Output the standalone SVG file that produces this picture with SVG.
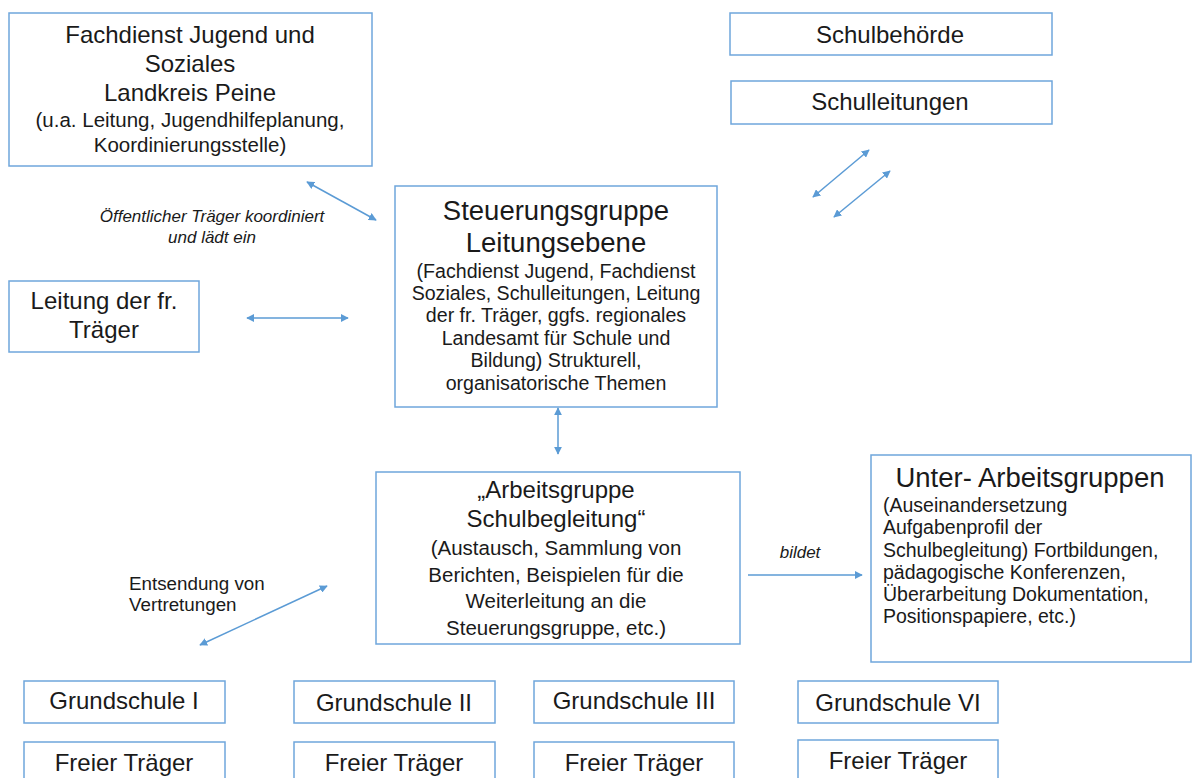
<svg xmlns="http://www.w3.org/2000/svg" width="1195" height="778" viewBox="0 0 1195 778">
<defs>
<marker id="ah" viewBox="0 0 10 10" refX="9" refY="5" markerWidth="8" markerHeight="8" markerUnits="userSpaceOnUse" orient="auto-start-reverse">
<path d="M0,0 L10,5 L0,10 z" fill="#5b9bd5"/>
</marker>
<style>
.box{fill:#fff;stroke:#6fa6dc;stroke-width:1.5}
text{font-family:"Liberation Sans",Arial,sans-serif;fill:#1a1a1a}
.t24{font-size:24px;text-anchor:middle}
.t27{font-size:27.5px;text-anchor:middle}
.b20{font-size:20.5px;text-anchor:middle}
.b19{font-size:19.6px;text-anchor:middle}
.bl{font-size:19.5px}
.it{font-size:17px;font-style:italic;text-anchor:middle}
.lab{font-size:18.8px}
.con{stroke:#5b9bd5;stroke-width:1.5;fill:none;marker-start:url(#ah);marker-end:url(#ah)}
.con1{stroke:#5b9bd5;stroke-width:1.5;fill:none;marker-end:url(#ah)}
</style>
</defs>
<rect width="1195" height="778" fill="#fff"/>

<g id="fachdienst">
<rect class="box" x="9" y="13" width="363" height="153"/>
<text class="t24" x="190" y="43">Fachdienst Jugend und</text>
<text class="t24" x="190" y="72">Soziales</text>
<text class="t24" x="190" y="101">Landkreis Peine</text>
<text class="b20" x="190" y="127">(u.a. Leitung, Jugendhilfeplanung,</text>
<text class="b20" x="190" y="152">Koordinierungsstelle)</text>
</g>

<g id="schulbehoerde">
<rect class="box" x="730" y="13" width="322" height="42"/>
<text class="t24" x="890" y="43">Schulbehörde</text>
</g>

<g id="schulleitungen">
<rect class="box" x="731" y="81" width="321" height="43"/>
<text class="t24" x="890" y="110">Schulleitungen</text>
</g>

<g id="steuerungsgruppe">
<rect class="box" x="395" y="186" width="322" height="221"/>
<text class="t27" x="556" y="220">Steuerungsgruppe</text>
<text class="t27" x="556" y="252">Leitungsebene</text>
<text class="b19" x="556" y="278">(Fachdienst Jugend, Fachdienst</text>
<text class="b19" x="556" y="300">Soziales, Schulleitungen, Leitung</text>
<text class="b19" x="556" y="322">der fr. Träger, ggfs. regionales</text>
<text class="b19" x="556" y="345">Landesamt für Schule und</text>
<text class="b19" x="556" y="367">Bildung) Strukturell,</text>
<text class="b19" x="556" y="390">organisatorische Themen</text>
</g>

<g id="leitung-traeger">
<rect class="box" x="9" y="281" width="190" height="71"/>
<text class="t24" x="104" y="309">Leitung der fr.</text>
<text class="t24" x="104" y="338">Träger</text>
</g>

<g id="arbeitsgruppe">
<rect class="box" x="376" y="472" width="364" height="172"/>
<text class="t24" x="556" y="498">„Arbeitsgruppe</text>
<text class="t24" x="556" y="527">Schulbegleitung“</text>
<text class="b20" x="556" y="555">(Austausch, Sammlung von</text>
<text class="b20" x="556" y="582">Berichten, Beispielen für die</text>
<text class="b20" x="556" y="608">Weiterleitung an die</text>
<text class="b20" x="556" y="635">Steuerungsgruppe, etc.)</text>
</g>

<g id="unter-arbeitsgruppen">
<rect class="box" x="871" y="455" width="320" height="207"/>
<text class="t27" x="1030" y="487">Unter- Arbeitsgruppen</text>
<text class="bl" x="883" y="512">(Auseinandersetzung</text>
<text class="bl" x="883" y="534">Aufgabenprofil der</text>
<text class="bl" x="883" y="557">Schulbegleitung) Fortbildungen,</text>
<text class="bl" x="883" y="579">pädagogische Konferenzen,</text>
<text class="bl" x="883" y="601">Überarbeitung Dokumentation,</text>
<text class="bl" x="883" y="623">Positionspapiere, etc.)</text>
</g>

<g id="grundschule-1">
<rect class="box" x="24" y="681" width="201" height="42"/>
<text class="t24" x="124" y="709">Grundschule I</text>
</g>
<g id="grundschule-2">
<rect class="box" x="294" y="681" width="201" height="42"/>
<text class="t24" x="394" y="711">Grundschule II</text>
</g>
<g id="grundschule-3">
<rect class="box" x="534" y="681" width="200" height="42"/>
<text class="t24" x="634" y="709">Grundschule III</text>
</g>
<g id="grundschule-6">
<rect class="box" x="798" y="681" width="200" height="42"/>
<text class="t24" x="898" y="711">Grundschule VI</text>
</g>
<g id="traeger-1">
<rect class="box" x="24" y="742" width="201" height="50"/>
<text class="t24" x="124" y="771">Freier Träger</text>
</g>
<g id="traeger-2">
<rect class="box" x="294" y="742" width="201" height="50"/>
<text class="t24" x="394" y="771">Freier Träger</text>
</g>
<g id="traeger-3">
<rect class="box" x="534" y="742" width="200" height="50"/>
<text class="t24" x="634" y="771">Freier Träger</text>
</g>
<g id="traeger-6">
<rect class="box" x="798" y="740" width="200" height="50"/>
<text class="t24" x="898" y="769">Freier Träger</text>
</g>

<g id="connectors">
<line class="con" x1="307" y1="182" x2="376" y2="220"/>
<line class="con" x1="869" y1="150" x2="813" y2="197"/>
<line class="con" x1="890" y1="171" x2="834" y2="217"/>
<line class="con" x1="247" y1="318" x2="348" y2="318"/>
<line class="con" x1="558" y1="408" x2="558" y2="454"/>
<line class="con1" x1="748" y1="575" x2="862" y2="575"/>
<line class="con" x1="327" y1="586" x2="200" y2="645"/>
<text class="it" x="212" y="222">Öffentlicher Träger koordiniert</text>
<text class="it" x="212" y="243">und lädt ein</text>
<text class="it" x="800" y="558">bildet</text>
<text class="lab" x="129" y="590">Entsendung von</text>
<text class="lab" x="129" y="611">Vertretungen</text>
</g>
</svg>
